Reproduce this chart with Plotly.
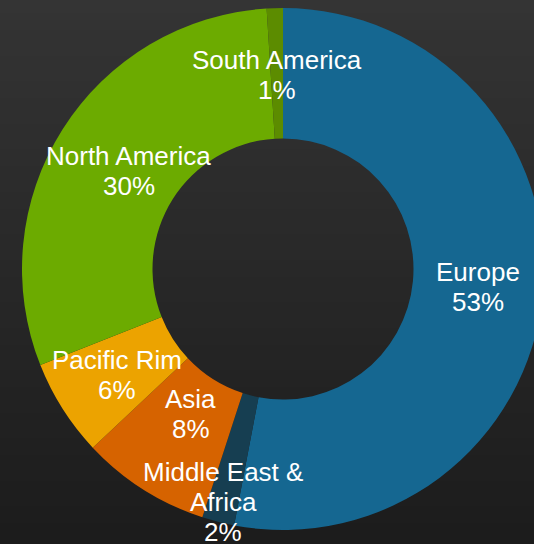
import math, zlib, struct, base64
import plotly.graph_objects as go

regions = ["Europe", "Middle East &<br>Africa", "Asia", "Pacific Rim", "North America", "South America"]
shares = [53, 2, 8, 6, 30, 1]
colors = ["#156791", "#163e51", "#d66300", "#eca300", "#6cab00", "#5c8c00"]
# radial position of each label, as a fraction of the outer radius
label_r = [0.75, 0.92, 0.66, 0.755, 0.70, 0.745]

W, H = 546, 544
ML, MR, MT, MB = 22, 2, 8, 14
PW = W - ML - MR
PH = H - MT - MB

fig = go.Figure(go.Pie(
    labels=[r.replace("<br>", " ") for r in regions],
    values=shares,
    hole=0.5,
    sort=False,
    direction="clockwise",
    rotation=0,
    textinfo="none",
    marker=dict(colors=colors, line=dict(width=0)),
    showlegend=False,
    hoverinfo="label+percent",
))

total = sum(shares)
cum = 0
annotations = []
for name, v, rf in zip(regions, shares, label_r):
    theta = 2 * math.pi * (cum + v / 2) / total
    cum += v
    R = min(PW, PH) / 2
    x = 0.5 + rf * R * math.sin(theta) / PW
    y = 0.5 + rf * R * math.cos(theta) / PH
    lines = name.split("<br>") + [f"{round(100 * v / total)}%"]
    n = len(lines)
    for i, ln in enumerate(lines):
        annotations.append(dict(
            x=x, y=y, xref="paper", yref="paper", text=ln, showarrow=False,
            xanchor="center", yanchor="middle", yshift=((n - 1) / 2 - i) * 30,
            font=dict(family="Liberation Sans, Arial, sans-serif", size=26, color="white"),
        ))

# vertical dark gradient background (lighter at top)
rows = []
N = 64
for i in range(N):
    g = int(round(0x34 + (0x1c - 0x34) * i / (N - 1)))
    rows.append(b"\x00" + bytes([g, g, g]))
raw = b"".join(rows)
def chunk(t, d):
    c = struct.pack(">I", len(d)) + t + d
    return c + struct.pack(">I", zlib.crc32(t + d) & 0xffffffff)
png = b"\x89PNG\r\n\x1a\n" + chunk(b"IHDR", struct.pack(">IIBBBBB", 1, N, 8, 2, 0, 0, 0)) \
    + chunk(b"IDAT", zlib.compress(raw)) + chunk(b"IEND", b"")
uri = "data:image/png;base64," + base64.b64encode(png).decode()

fig.update_layout(
    width=W, height=H,
    margin=dict(l=ML, r=MR, t=MT, b=MB),
    paper_bgcolor="#282828",
    plot_bgcolor="#282828",
    annotations=annotations,
    images=[dict(source=uri, xref="paper", yref="paper",
                 x=-ML / PW, y=1 + MT / PH, sizex=W / PW, sizey=H / PH,
                 sizing="stretch", layer="below", xanchor="left", yanchor="top")],
)

fig.write_html("out.html", config={"displayModeBar": False}, post_script=(
    "document.body.style.margin='0';"
    "document.body.style.overflow='hidden';"
    "document.documentElement.style.overflow='hidden';"
))
